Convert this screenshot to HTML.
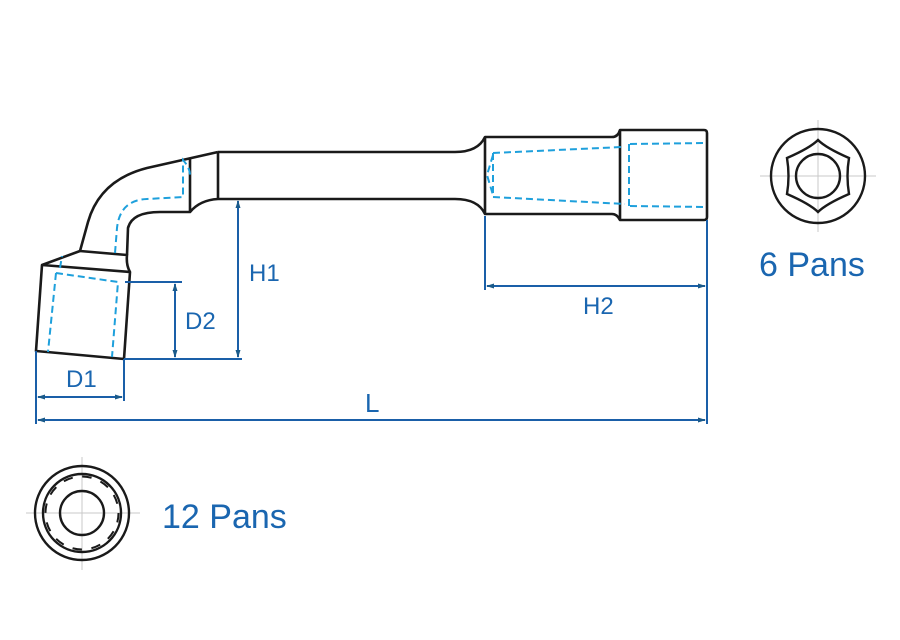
<!DOCTYPE html>
<html><head><style>
html,body{margin:0;padding:0;background:#fff;}
svg{display:block;}
text{font-family:"Liberation Sans",sans-serif;fill:#1a66b0;}
</style></head><body>
<svg width="900" height="640" viewBox="0 0 900 640" xmlns="http://www.w3.org/2000/svg">
<defs>
<marker id="a" markerWidth="8" markerHeight="8" refX="7" refY="4" orient="auto-start-reverse" markerUnits="userSpaceOnUse"><path d="M0,1.5 L8,4 L0,6.5 Z" fill="#1a5a8a"/></marker>
</defs>
<g fill="none" stroke="#1a1a1a" stroke-width="2.6" stroke-linejoin="round">
<path d="M42,265 L130,272 L124,359 L36,351 Z"/>
<path d="M42,265 L80,251 L127,255 Q126,265 130,272"/>
<path d="M80,251 L88,222 Q100,180 147,168 L218,152"/>
<path d="M127,255 L128,228 Q132,212 160,212 L190,212 Q200,200 218,199"/>
<path d="M190,158 L190,212"/>
<path d="M218,152 L218,199"/>
<path d="M218,152 L455,152 Q478,152 485,137 L612,137 Q618,137 620,130 L704,130 Q707,130 707,133 L707,217 Q707,220 704,220 L620,220 Q617,214 612,214 L485,214 Q478,199 455,199 L218,199"/>
<path d="M485,137 L485,214"/>
<path d="M620,130 L620,220"/>
</g>
<g fill="none" stroke="#1ea0dc" stroke-width="2" stroke-dasharray="7,4">
<path d="M493,153 L622,147"/>
<path d="M630,144 L707,143"/>
<path d="M493,153 L493,197 L625,204"/>
<path d="M630,206 L707,207"/>
<path d="M629,144 L629,206"/>
<path d="M493,155 L487,175 L493,195"/>
<path d="M56,273 L118,282 L112,357"/>
<path d="M56,273 L48,352"/>
<path d="M60,268 L62,256"/>
<path d="M115,253 L117,228 Q120,200 147,199 L183,197 L183,160 Q190,168 190,175"/>
</g>
<g fill="none" stroke="#1a5fa8" stroke-width="2">
<path d="M125,282 L182,282"/>
<path d="M124,359 L242,359"/>
<path d="M175,284 L175,357" marker-start="url(#a)" marker-end="url(#a)"/>
<path d="M238,201 L238,357" marker-start="url(#a)" marker-end="url(#a)"/>
<path d="M36,351 L36,424"/>
<path d="M124,359 L124,401"/>
<path d="M38,397 L122,397" marker-start="url(#a)" marker-end="url(#a)"/>
<path d="M38,420 L705,420" marker-start="url(#a)" marker-end="url(#a)"/>
<path d="M707,220 L707,424"/>
<path d="M485,216 L485,290"/>
<path d="M487,286 L705,286" marker-start="url(#a)" marker-end="url(#a)"/>
</g>
<text x="249" y="281" font-size="24">H1</text>
<text x="185" y="329" font-size="24">D2</text>
<text x="66" y="387" font-size="24">D1</text>
<text x="365" y="412" font-size="26">L</text>
<text x="583" y="314" font-size="24">H2</text>
<text x="759" y="276" font-size="34">6 Pans</text>
<text x="162" y="528" font-size="34">12 Pans</text>
<g stroke="#c8c8c8" stroke-width="1"><path d="M760,176 L876,176 M818,120 L818,232"/></g>
<g fill="none" stroke="#1a1a1a" stroke-width="2.4">
<circle cx="818" cy="176" r="47"/>
<circle cx="818" cy="176" r="22"/>
<path d="M818,140 Q826,148 849,158 Q846,176 849,194 Q826,204 818,212 Q810,204 787,194 Q790,176 787,158 Q810,148 818,140 Z"/>
</g>
<g stroke="#c8c8c8" stroke-width="1"><path d="M26,513 L140,513 M82,457 L82,570"/></g>
<g fill="none" stroke="#1a1a1a" stroke-width="2.4">
<circle cx="82" cy="513" r="47"/>
<circle cx="82" cy="513" r="39"/>
<circle cx="82" cy="513" r="22"/>
<circle cx="82" cy="513" r="36.5" stroke-dasharray="9.5,9.6" stroke-width="2"/>
</g>
</svg>
</body></html>
